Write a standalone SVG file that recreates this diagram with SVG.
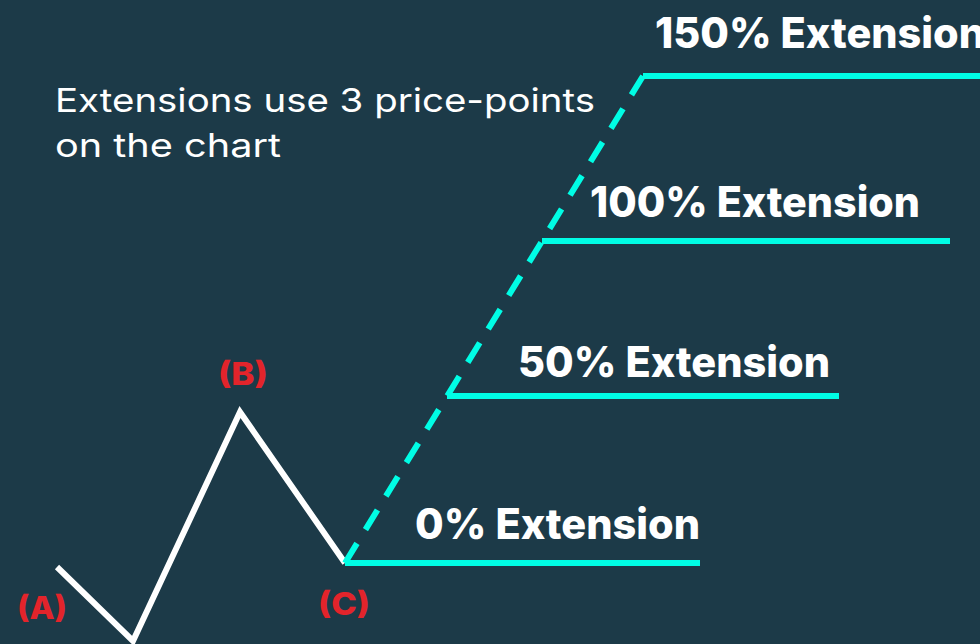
<svg xmlns="http://www.w3.org/2000/svg" width="980" height="644" viewBox="0 0 980 644">
  <style>
    .bg { fill: #1c3a48; }
    .price { fill: none; stroke: #ffffff; stroke-width: 6; stroke-linejoin: miter; stroke-miterlimit: 10; }
    .level { fill: none; stroke: #00fde5; stroke-width: 6; stroke-linecap: butt; }
    .ext { fill: none; stroke: #00fde5; stroke-width: 6; stroke-dasharray: 23 16.2; stroke-linecap: butt; }
    .lbl { font-family: Inter, "Open Sans", "Liberation Sans", sans-serif; font-weight: 800; font-size: 42px; fill: #ffffff; }
    .pt { font-family: Inter, "Open Sans", "Liberation Sans", sans-serif; font-weight: 800; font-size: 31px; fill: #e3242b; text-anchor: middle; }
    .note { font-family: Inter, "Open Sans", "Liberation Sans", sans-serif; font-weight: 400; font-size: 33px; fill: #ffffff; }
  </style>
  <rect class="bg" x="0" y="0" width="980" height="644"/>

  <g id="connectors">
    <polyline class="price" points="57,567 133,641 240,412 345,563"/>
    <path class="ext" d="M345,563 L643,76"/>
    <line class="level" x1="345" y1="563" x2="700" y2="563"/>
    <line class="level" x1="447" y1="396" x2="839" y2="396"/>
    <line class="level" x1="542" y1="241" x2="950" y2="241"/>
    <line class="level" x1="643" y1="76" x2="984" y2="76"/>
  </g>

  <g id="note">
    <text class="note" x="55" y="112" textLength="540" lengthAdjust="spacingAndGlyphs">Extensions use 3 price-points</text>
    <text class="note" x="55" y="157" textLength="226" lengthAdjust="spacingAndGlyphs">on the chart</text>
  </g>

  <g id="level-150">
    <text class="lbl" x="655" y="48" textLength="330" lengthAdjust="spacingAndGlyphs">150% Extension</text>
  </g>
  <g id="level-100">
    <text class="lbl" x="590" y="217" textLength="330" lengthAdjust="spacingAndGlyphs">100% Extension</text>
  </g>
  <g id="level-50">
    <text class="lbl" x="518" y="377" textLength="312" lengthAdjust="spacingAndGlyphs">50% Extension</text>
  </g>
  <g id="level-0">
    <text class="lbl" x="415" y="539" textLength="285" lengthAdjust="spacingAndGlyphs">0% Extension</text>
  </g>

  <g id="point-a">
    <text class="pt" x="42" y="619" textLength="50" lengthAdjust="spacingAndGlyphs">(A)</text>
  </g>
  <g id="point-b">
    <text class="pt" x="243" y="385" textLength="50" lengthAdjust="spacingAndGlyphs">(B)</text>
  </g>
  <g id="point-c">
    <text class="pt" x="344" y="615" textLength="52" lengthAdjust="spacingAndGlyphs">(C)</text>
  </g>
</svg>
